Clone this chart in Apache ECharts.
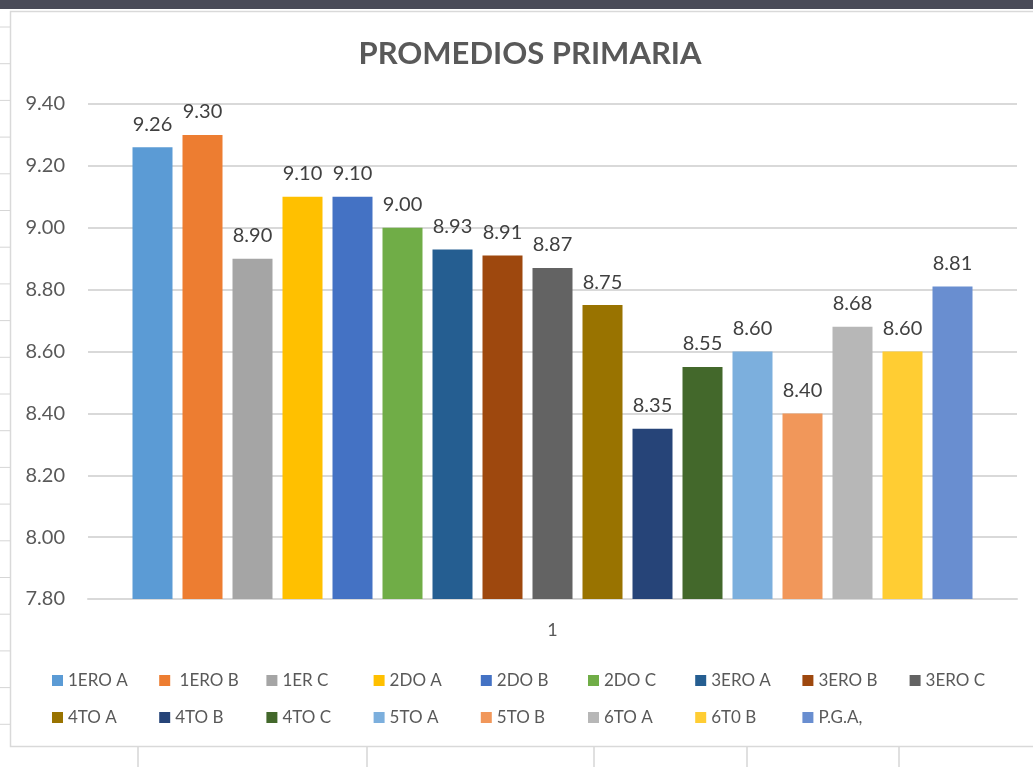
<!DOCTYPE html>
<html>
<head>
<meta charset="utf-8">
<title>Promedios primaria</title>
<script src="https://cdn.jsdelivr.net/npm/echarts@6/dist/echarts.min.js"></script>
<style>
    html, body { margin: 0; padding: 0; background: #fff; }
    #chart { width: 1033px; height: 767px; }
</style>
</head>
<body>
<div id="chart"></div>
<script>
    var categories = ['1'];
    var groups = ['1ERO A', ' 1ERO B', '1ER C', '2DO A', '2DO B', '2DO C', '3ERO A', '3ERO B', '3ERO C',
        '4TO A', '4TO B', '4TO C', '5TO A', '5TO B', '6TO A', '6T0 B', 'P.G.A,'];
    var averages = [9.26, 9.30, 8.90, 9.10, 9.10, 9.00, 8.93, 8.91, 8.87,
        8.75, 8.35, 8.55, 8.60, 8.40, 8.68, 8.60, 8.81];
    var colors = ['#5b9bd5', '#ed7d31', '#a5a5a5', '#ffc000', '#4472c4', '#70ad47', '#255e91', '#9e480e', '#636363',
        '#997300', '#264478', '#43682b', '#7cafdd', '#f1975a', '#b7b7b7', '#ffcd33', '#698ed0'];
    var yTicks = { min: 7.8, max: 9.4, step: 0.2 };

    var font = 'Lato, "Open Sans", sans-serif';
    var chart = echarts.init(document.getElementById('chart'), null, { renderer: 'canvas' });

    var series = [];
    for (var i = 0; i < groups.length; i++) {
        series.push({
            name: groups[i],
            type: 'bar',
            data: [averages[i]],
            barWidth: 40,
            barGap: '25%',
            itemStyle: { color: colors[i] },
            label: {
                show: true,
                position: 'top',
                distance: 13,
                color: '#404040',
                fontFamily: font,
                fontSize: 20,
                formatter: function (p) { return p.value.toFixed(2); }
            }
        });
    }

    // excel lays the legend out in fixed columns, 9 per row
    var legends = [];
    for (var k = 0; k < groups.length; k++) {
        legends.push({
            data: [groups[k]],
            left: 47 + (k % 9) * 107.2,
            top: k < 9 ? 667 : 704,
            icon: 'rect',
            itemWidth: 11,
            itemHeight: 11,
            selectedMode: false,
            textStyle: { color: '#595959', fontFamily: font, fontSize: 17 }
        });
    }

    // spreadsheet cells peeking out around the chart
    var sheet = [
        { type: 'rect', shape: { x: 0, y: 0, width: 1033, height: 9 }, style: { fill: '#4a4b58' }, z: 10 },
        { type: 'rect', shape: { x: 10.5, y: 11.5, width: 1040, height: 735 }, style: { fill: null, stroke: '#d9d9d9', lineWidth: 1.5 }, z: 10 }
    ];
    for (var r = 0; r < 20; r++) {
        var yy = 27 + r * 36.7;
        sheet.push({ type: 'line', shape: { x1: 0, y1: yy, x2: 10, y2: yy }, style: { stroke: '#d6d6d6', lineWidth: 1 }, z: 10 });
    }
    [138, 367, 594, 747, 899].forEach(function (x) {
        sheet.push({ type: 'line', shape: { x1: x, y1: 747, x2: x, y2: 767 }, style: { stroke: '#d6d6d6', lineWidth: 1.5 }, z: 10 });
    });

    var option = {
        backgroundColor: '#fff',
        animation: false,
        title: {
            text: 'PROMEDIOS PRIMARIA',
            left: 525,
            textAlign: 'center',
            top: 33,
            textStyle: { color: '#595959', fontFamily: font, fontWeight: 'bold', fontSize: 31 }
        },
        legend: legends,
        grid: { left: 88, right: 16, top: 104, bottom: 168, containLabel: false },
        xAxis: {
            type: 'category',
            data: categories,
            axisLine: { lineStyle: { color: '#d9d9d9', width: 2 } },
            axisTick: { show: false },
            axisLabel: { color: '#595959', fontFamily: font, fontSize: 18, margin: 22 }
        },
        yAxis: {
            type: 'value',
            min: yTicks.min,
            max: yTicks.max,
            interval: yTicks.step,
            axisLine: { show: false },
            axisTick: { show: false },
            splitLine: { lineStyle: { color: '#d9d9d9', width: 2 } },
            axisLabel: {
                color: '#595959',
                fontFamily: font,
                fontSize: 20,
                margin: 23,
                formatter: function (v) { return v.toFixed(2); }
            }
        },
        graphic: sheet,
        series: series
    };
    chart.setOption(option);
</script>
</body>
</html>
